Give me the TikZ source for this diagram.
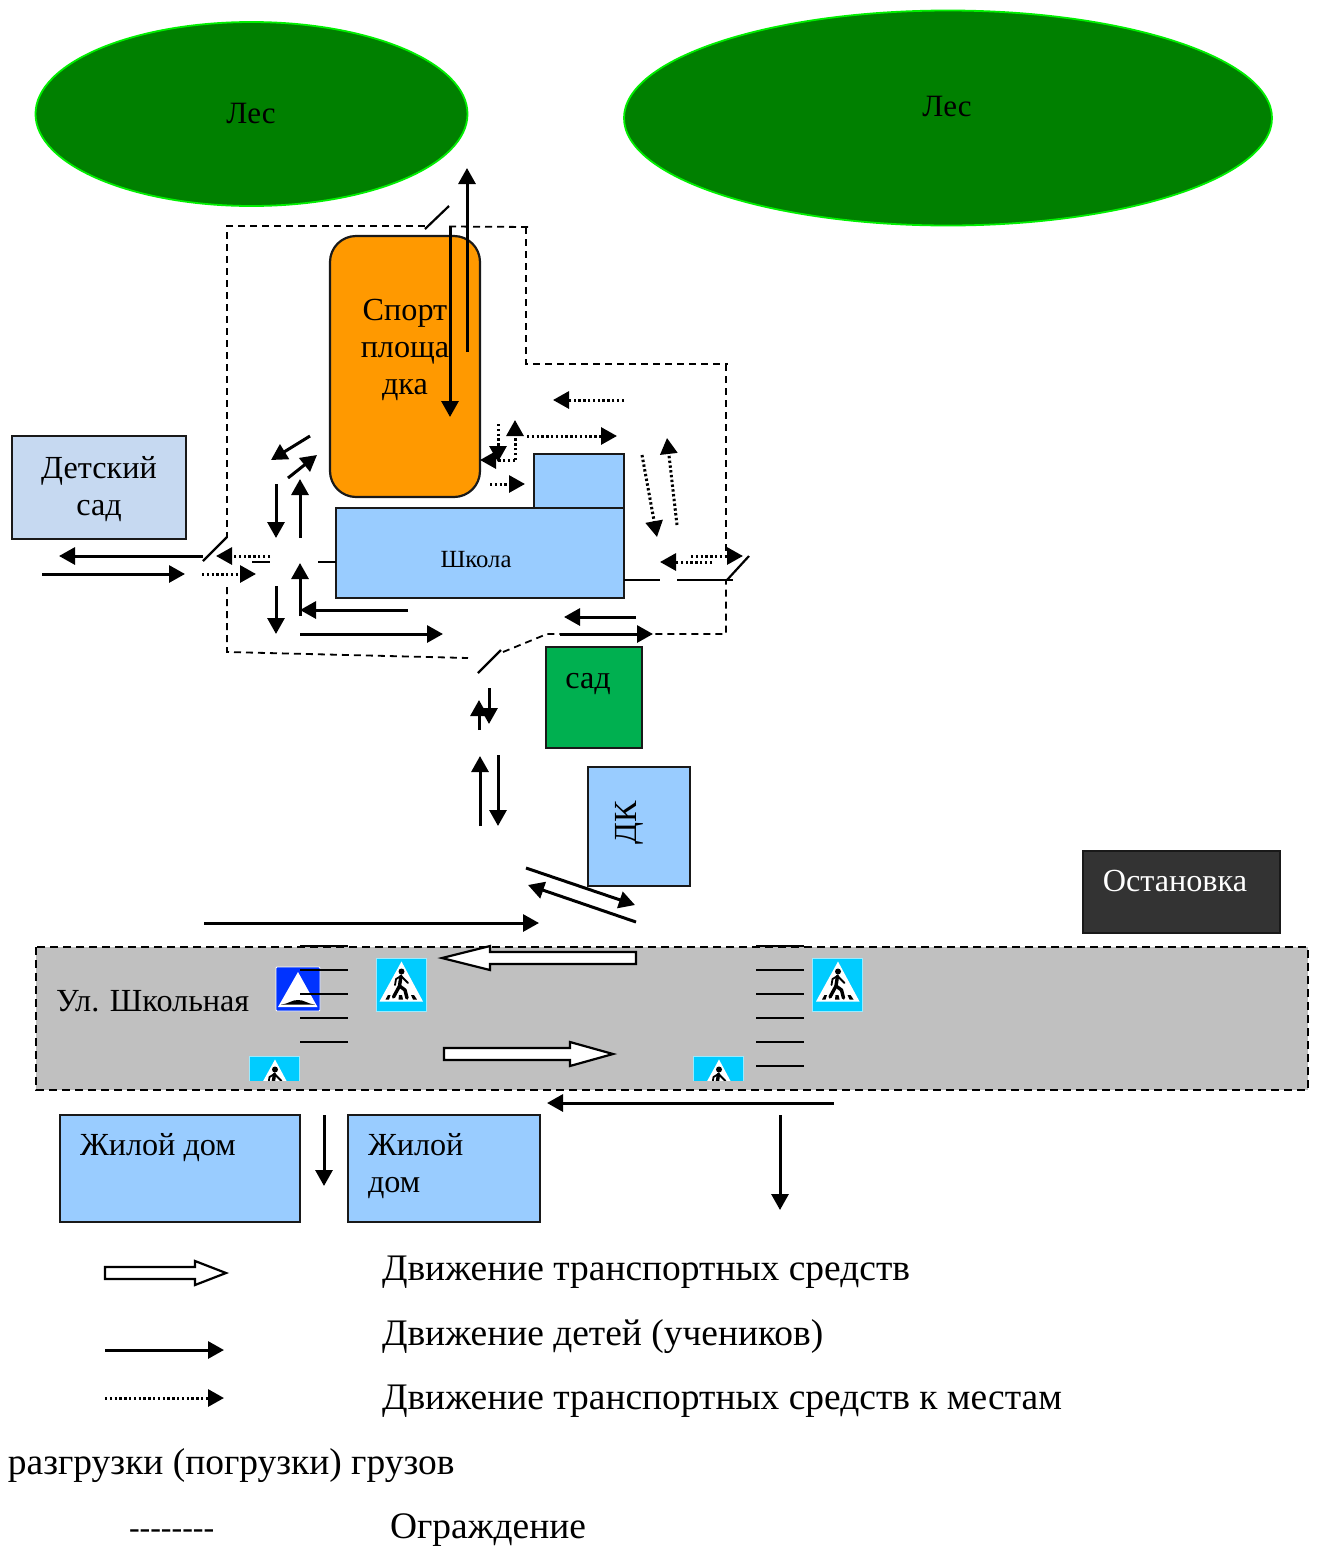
\documentclass[tikz,border=0pt]{standalone}
\usepackage{fontspec}
\setmainfont{Liberation Serif}
\usetikzlibrary{arrows.meta,shapes.geometric}
\definecolor{forest}{RGB}{0,128,0}
\definecolor{forestedge}{RGB}{0,240,0}
\definecolor{sportor}{RGB}{255,153,0}
\definecolor{bluefill}{RGB}{153,204,255}
\definecolor{kidfill}{RGB}{198,217,241}
\definecolor{gardenfill}{RGB}{0,176,80}
\definecolor{stopfill}{RGB}{51,51,51}
\definecolor{roadfill}{RGB}{192,192,192}
\definecolor{signcyan}{RGB}{0,204,255}
\definecolor{signblue}{RGB}{0,51,255}
\newcommand\bigtxt{\fontsize{32.2}{36}\selectfont}
\newcommand\legtxt{\fontsize{37.45}{40}\selectfont}
\newcommand\pedsigndraw[2]{%
\begin{scope}[shift={(#1,#2)}]
 \fill[signcyan,draw=signcyan!40!white,line width=0.8pt] (0,0) rectangle (50,53);
 \fill[white] (25.5,3.5) -- (47,43.5) -- (3.5,43.5) -- cycle;
 \fill[black] (25.5,13.5) circle (3);
 \draw[black,line width=3.4pt,line cap=round,line join=round] (25,18) -- (23.5,28) -- (17.5,39);
 \draw[black,line width=3.4pt,line cap=round,line join=round] (23.5,28) -- (29,32) -- (31,40);
 \draw[black,line width=1.8pt,line cap=round,line join=round] (25,18) -- (20,21) -- (19,27);
 \draw[black,line width=1.8pt,line cap=round,line join=round] (25,18) -- (29,22) -- (32,25);
 \fill[black] (9.5,41.5) -- (12,37) -- (14.5,37) -- (13,41.5) -- cycle;
 \fill[black] (22.5,41.5) -- (23,37) -- (26,37) -- (27,41.5) -- cycle;
 \fill[black] (37,41.5) -- (35,37) -- (38,37) -- (41,41.5) -- cycle;
\end{scope}}
\tikzset{
 every node/.style={inner sep=0pt,outer sep=0pt,align=center,text=black},
 boxed/.style={draw=black!90,line width=2.2pt},
 woods/.style={fill=forest,draw=forestedge,line width=1.8pt},
 walk/.style={line width=3pt,black,-{Triangle[length=16pt,width=17pt]}},
 cargo/.style={line width=3pt,black,dash pattern=on 2.4pt off 2.4pt,-{Triangle[length=16pt,width=17pt]}},
 fence/.style={line width=1.8pt,black,dash pattern=on 7pt off 5pt},
 roadedge/.style={line width=2.4pt,black,dash pattern=on 8pt off 5pt},
 plain/.style={line width=2.2pt,black},
 zebra/.style={line width=2.6pt,black},
 hollow/.style={fill=white,draw=black,line width=2.2pt,line join=miter},
 txtleft/.style={anchor=base west,align=left},
 txtmid/.style={anchor=base},
}
\begin{document}
\begin{tikzpicture}[x=1pt,y=-1pt]
\useasboundingbox (0,0) rectangle (1321,1548);
% forests
\node[woods,ellipse,minimum width=432pt,minimum height=184pt] (forestL) at (251.5,114) {};
\node[woods,ellipse,minimum width=648pt,minimum height=215pt] (forestR) at (948,118) {};
\node[txtmid,font=\fontsize{31}{33}\selectfont] (lesL) at (251,123) {Лес};
\node[txtmid,font=\fontsize{31}{33}\selectfont] (lesR) at (947,116) {Лес};
% road
\fill[roadfill] (36,947) rectangle (1308,1090);
\draw[roadedge] (36,947) rectangle (1308,1090);
% buildings
\draw[boxed,fill=sportor,rounded corners=26pt] (330,236) rectangle (480,497);
\node[txtmid,font=\bigtxt] (sportT) at (405,320) {Спорт};
\node[txtmid,font=\bigtxt] (sportP) at (405,357) {площа};
\node[txtmid,font=\bigtxt] (sportD) at (405,394) {дка};
\draw[boxed,fill=kidfill] (12,436) rectangle (186,539);
\node[txtmid,font=\bigtxt] (kid1) at (99,478) {Детский};
\node[txtmid,font=\bigtxt] (kid2) at (99,515) {сад};
\draw[boxed,fill=bluefill] (534,454) rectangle (624,508);
\draw[boxed,fill=bluefill] (336,508) rectangle (624,598);
\node[txtmid,font=\fontsize{24.7}{26}\selectfont] (school) at (476,567) {Школа};
\draw[boxed,fill=gardenfill] (546,647) rectangle (642,748);
\node[txtmid,font=\bigtxt] (garden) at (588,688) {сад};
\draw[boxed,fill=bluefill] (588,767) rectangle (690,886);
\node[font=\bigtxt,rotate=90] (dk) at (629,823) {ДК};
\draw[boxed,fill=stopfill] (1083,851) rectangle (1280,933);
\node[txtmid,font=\bigtxt,text=white] (stop) at (1175,891) {Остановка};
\draw[boxed,fill=bluefill] (60,1115) rectangle (300,1222);
\node[txtleft,font=\bigtxt] (house1) at (80,1155) {Жилой дом};
\draw[boxed,fill=bluefill] (348,1115) rectangle (540,1222);
\node[txtleft,font=\bigtxt] (house2a) at (368,1155) {Жилой};
\node[txtleft,font=\bigtxt] (house2b) at (368,1192) {дом};
\node[txtleft,font=\bigtxt] (street) at (56,1011) {Ул. Школьная};
% signs
\pedsigndraw{376}{958}
\pedsigndraw{812.5}{958}
\begin{scope}
 \clip (240,1050) rectangle (310,1080);
 \pedsigndraw{249.5}{1056}
\end{scope}
\begin{scope}
 \clip (685,1050) rectangle (755,1080);
 \pedsigndraw{693.5}{1056}
\end{scope}
\fill[signblue,draw=white,line width=0.9pt,rounded corners=1pt] (276,967) rectangle (320,1011);
\fill[white] (298,972) -- (317.5,1007) -- (278,1007) -- cycle;
\fill[black] (281,1004.5) .. controls (290,1003.5) and (291,1000) .. (298,1000) .. controls (305,1000) and (306,1003.5) .. (315,1004.5) -- cycle;
% crosswalks
\foreach \yy in {946,970,994,1018,1042} \draw[zebra] (300,\yy) -- (348,\yy);
\foreach \yy in {946,970,994,1018,1042,1066} \draw[zebra] (756,\yy) -- (804,\yy);
% fence
\draw[fence] (425,226) -- (227,226) -- (227,538);
\draw[fence] (449,226.5) -- (531,227);
\draw[fence] (526,227) -- (526,364) -- (728,364);
\draw[fence] (726,364) -- (726,556);
\draw[fence] (227,587) -- (227,652) -- (468,658);
\draw[fence] (503,652) -- (547,634) -- (726,634) -- (726,580);
\draw[plain] (425,229) -- (449,206);
\draw[plain] (203,561) -- (227,537);
\draw[plain] (478,673) -- (501,650);
\draw[plain] (727,580) -- (749,556);
\draw[plain] (252,562) -- (270,562);
\draw[plain] (318,562) -- (336,562);
\draw[plain] (624,580) -- (660,580);
\draw[plain] (677,580) -- (733,580);
% children's routes
\draw[walk] (450,226) -- (450,417);
\draw[walk] (467,352) -- (467,168);
\draw[walk] (203,556) -- (59,556);
\draw[walk] (42,574) -- (185,574);
\draw[walk] (310,436) -- (271,460);
\draw[walk] (288,478) -- (317,455);
\draw[walk] (276,484) -- (276,538);
\draw[walk] (300,538) -- (300,479);
\draw[walk] (276,586) -- (276,634);
\draw[walk] (300,616) -- (300,563);
\draw[walk] (408,610) -- (300,610);
\draw[walk] (300,634) -- (443,634);
\draw[walk] (636,617) -- (564,617);
\draw[walk] (560,634) -- (653,634);
\draw[walk] (489,688) -- (489,724);
\draw[walk] (479,730) -- (479,700);
\draw[walk] (480,826) -- (480,756);
\draw[walk] (498,755) -- (498,826);
\draw[walk] (526,868) -- (635,905);
\draw[walk] (636,922) -- (528,885);
\draw[walk] (204,923) -- (539,923);
\draw[walk] (834,1103) -- (547,1103);
\draw[walk] (780,1115) -- (780,1210);
\draw[walk] (324,1115) -- (324,1186);
% cargo routes
\draw[cargo] (270,556) -- (216,556);
\draw[cargo] (202,574) -- (256,574);
\draw[cargo] (624,400) -- (553,400);
\draw[cargo] (498,424) -- (498,462);
\draw[cargo] (515,460) -- (480,460);
\draw[cargo] (515,460) -- (515,420);
\draw[cargo] (527,436) -- (617,436);
\draw[cargo] (490,484) -- (525,484);
\draw[cargo] (642,455) -- (657,537);
\draw[cargo] (677,525) -- (667,438);
\draw[cargo] (691,556) -- (743,556);
\draw[cargo] (712,562) -- (660,562);
% vehicle arrows
\draw[hollow] (636,952) -- (490,952) -- (490,946) -- (442,958) -- (490,970) -- (490,964) -- (636,964) -- cycle;
\draw[hollow] (444,1048) -- (570,1048) -- (570,1042) -- (613,1054) -- (570,1066) -- (570,1060) -- (444,1060) -- cycle;
\draw[hollow] (105,1267) -- (195,1267) -- (195,1261) -- (226,1273) -- (195,1285) -- (195,1279) -- (105,1279) -- cycle;
% legend
\draw[walk] (105,1350) -- (224,1350);
\draw[cargo] (105,1398) -- (224,1398);
\node[txtleft,font=\legtxt] (leg1) at (382,1280) {Движение транспортных средств};
\node[txtleft,font=\legtxt] (leg2) at (382,1345) {Движение детей (учеников)};
\node[txtleft,font=\legtxt] (leg3) at (382,1409) {Движение транспортных средств к местам};
\node[txtleft,font=\legtxt] (leg4) at (8,1474) {разгрузки (погрузки) грузов};
\node[txtleft,font=\fontsize{32}{36}\selectfont] (leg5) at (129,1538) {-{}-{}-{}-{}-{}-{}-{}-};
\node[txtleft,font=\legtxt] (leg6) at (390,1538) {Ограждение};
\end{tikzpicture}
\end{document}
